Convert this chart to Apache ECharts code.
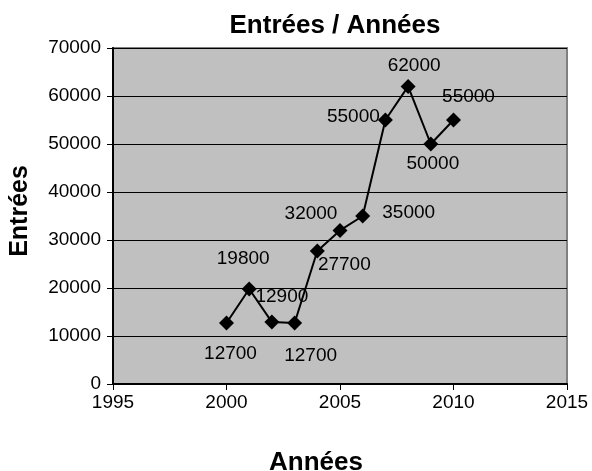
<!DOCTYPE html>
<html>
<head>
<meta charset="utf-8">
<script src="https://cdn.jsdelivr.net/npm/echarts@6/dist/echarts.min.js"></script>
<style>
html,body{margin:0;padding:0;background:#fff;}
#c{width:592px;height:471px;}
</style>
</head>
<body>
<div id="c"></div>
<script>
var years = [2000, 2001, 2002, 2003, 2004, 2005, 2006, 2007, 2008, 2009, 2010];
var entrees = [12700, 19800, 12900, 12700, 27700, 32000, 35000, 55000, 62000, 50000, 55000];
var labelOffsets = [[4,31],[-6,-30],[10,-25],[16,33],[27,14],[-29,-17],[46,-3],[-32,-3],[6,-21],[2,20],[15,-23]];
var titleText = 'Entrées / Années';
var xName = 'Années';
var yName = 'Entrées';

var FONT = 'Liberation Sans, Arial, sans-serif';
var data = years.map(function(y, i){
  return {
    value: [y, entrees[i]],
    label: { offset: labelOffsets[i] }
  };
});

var chart = echarts.init(document.getElementById('c'), null, {renderer:'canvas'});
chart.setOption({
  animation: false,
  backgroundColor: '#fff',
  title: {
    text: titleText,
    left: 330, top: 8, textAlign: 'center',
    textStyle: {fontFamily: FONT, fontSize: 26, fontWeight: 'bold', color: '#000'}
  },
  grid: {left: 113, right: 25, top: 48, bottom: 87, show: true, containLabel: false,
    outerBoundsMode: 'none',
    backgroundColor: '#c0c0c0', borderColor: '#808080', borderWidth: 2},
  xAxis: {
    type: 'value', min: 1995, max: 2015, interval: 5,
    name: xName, nameLocation: 'middle', nameGap: 66,
    nameTextStyle: {fontFamily: FONT, fontSize: 26, fontWeight: 'bold', color: '#000', padding: [0, 48, 0, 0]},
    axisLine: {show: true, onZero: false, lineStyle: {color: '#000', width: 2}},
    axisTick: {show: true, inside: false, length: 6, lineStyle: {color: '#000', width: 1}},
    axisLabel: {fontFamily: FONT, fontSize: 19, color: '#000', margin: 9,
      formatter: function(v){ return String(v); }},
    splitLine: {show: false}
  },
  yAxis: {
    type: 'value', min: 0, max: 70000, interval: 10000,
    name: yName, nameLocation: 'middle', nameGap: 80, nameRotate: 90,
    nameTextStyle: {fontFamily: FONT, fontSize: 25, fontWeight: 'bold', color: '#000', padding: [0, 0, 0, 10]},
    axisLine: {show: true, lineStyle: {color: '#000', width: 2}},
    axisTick: {show: true, inside: false, length: 6, lineStyle: {color: '#000', width: 1}},
    axisLabel: {fontFamily: FONT, fontSize: 19, color: '#000', margin: 12,
      formatter: function(v){ return String(v); }},
    splitLine: {show: true, lineStyle: {color: '#000', width: 1}}
  },
  series: [{
    type: 'line',
    data: data,
    symbol: 'diamond', symbolSize: 15,
    itemStyle: {color: '#000'},
    lineStyle: {color: '#000', width: 2},
    label: {show: true, position: 'inside', fontFamily: FONT, fontSize: 19, color: '#000',
      formatter: function(p){ return String(p.value[1]); }}
  }]
});
</script>
</body>
</html>
